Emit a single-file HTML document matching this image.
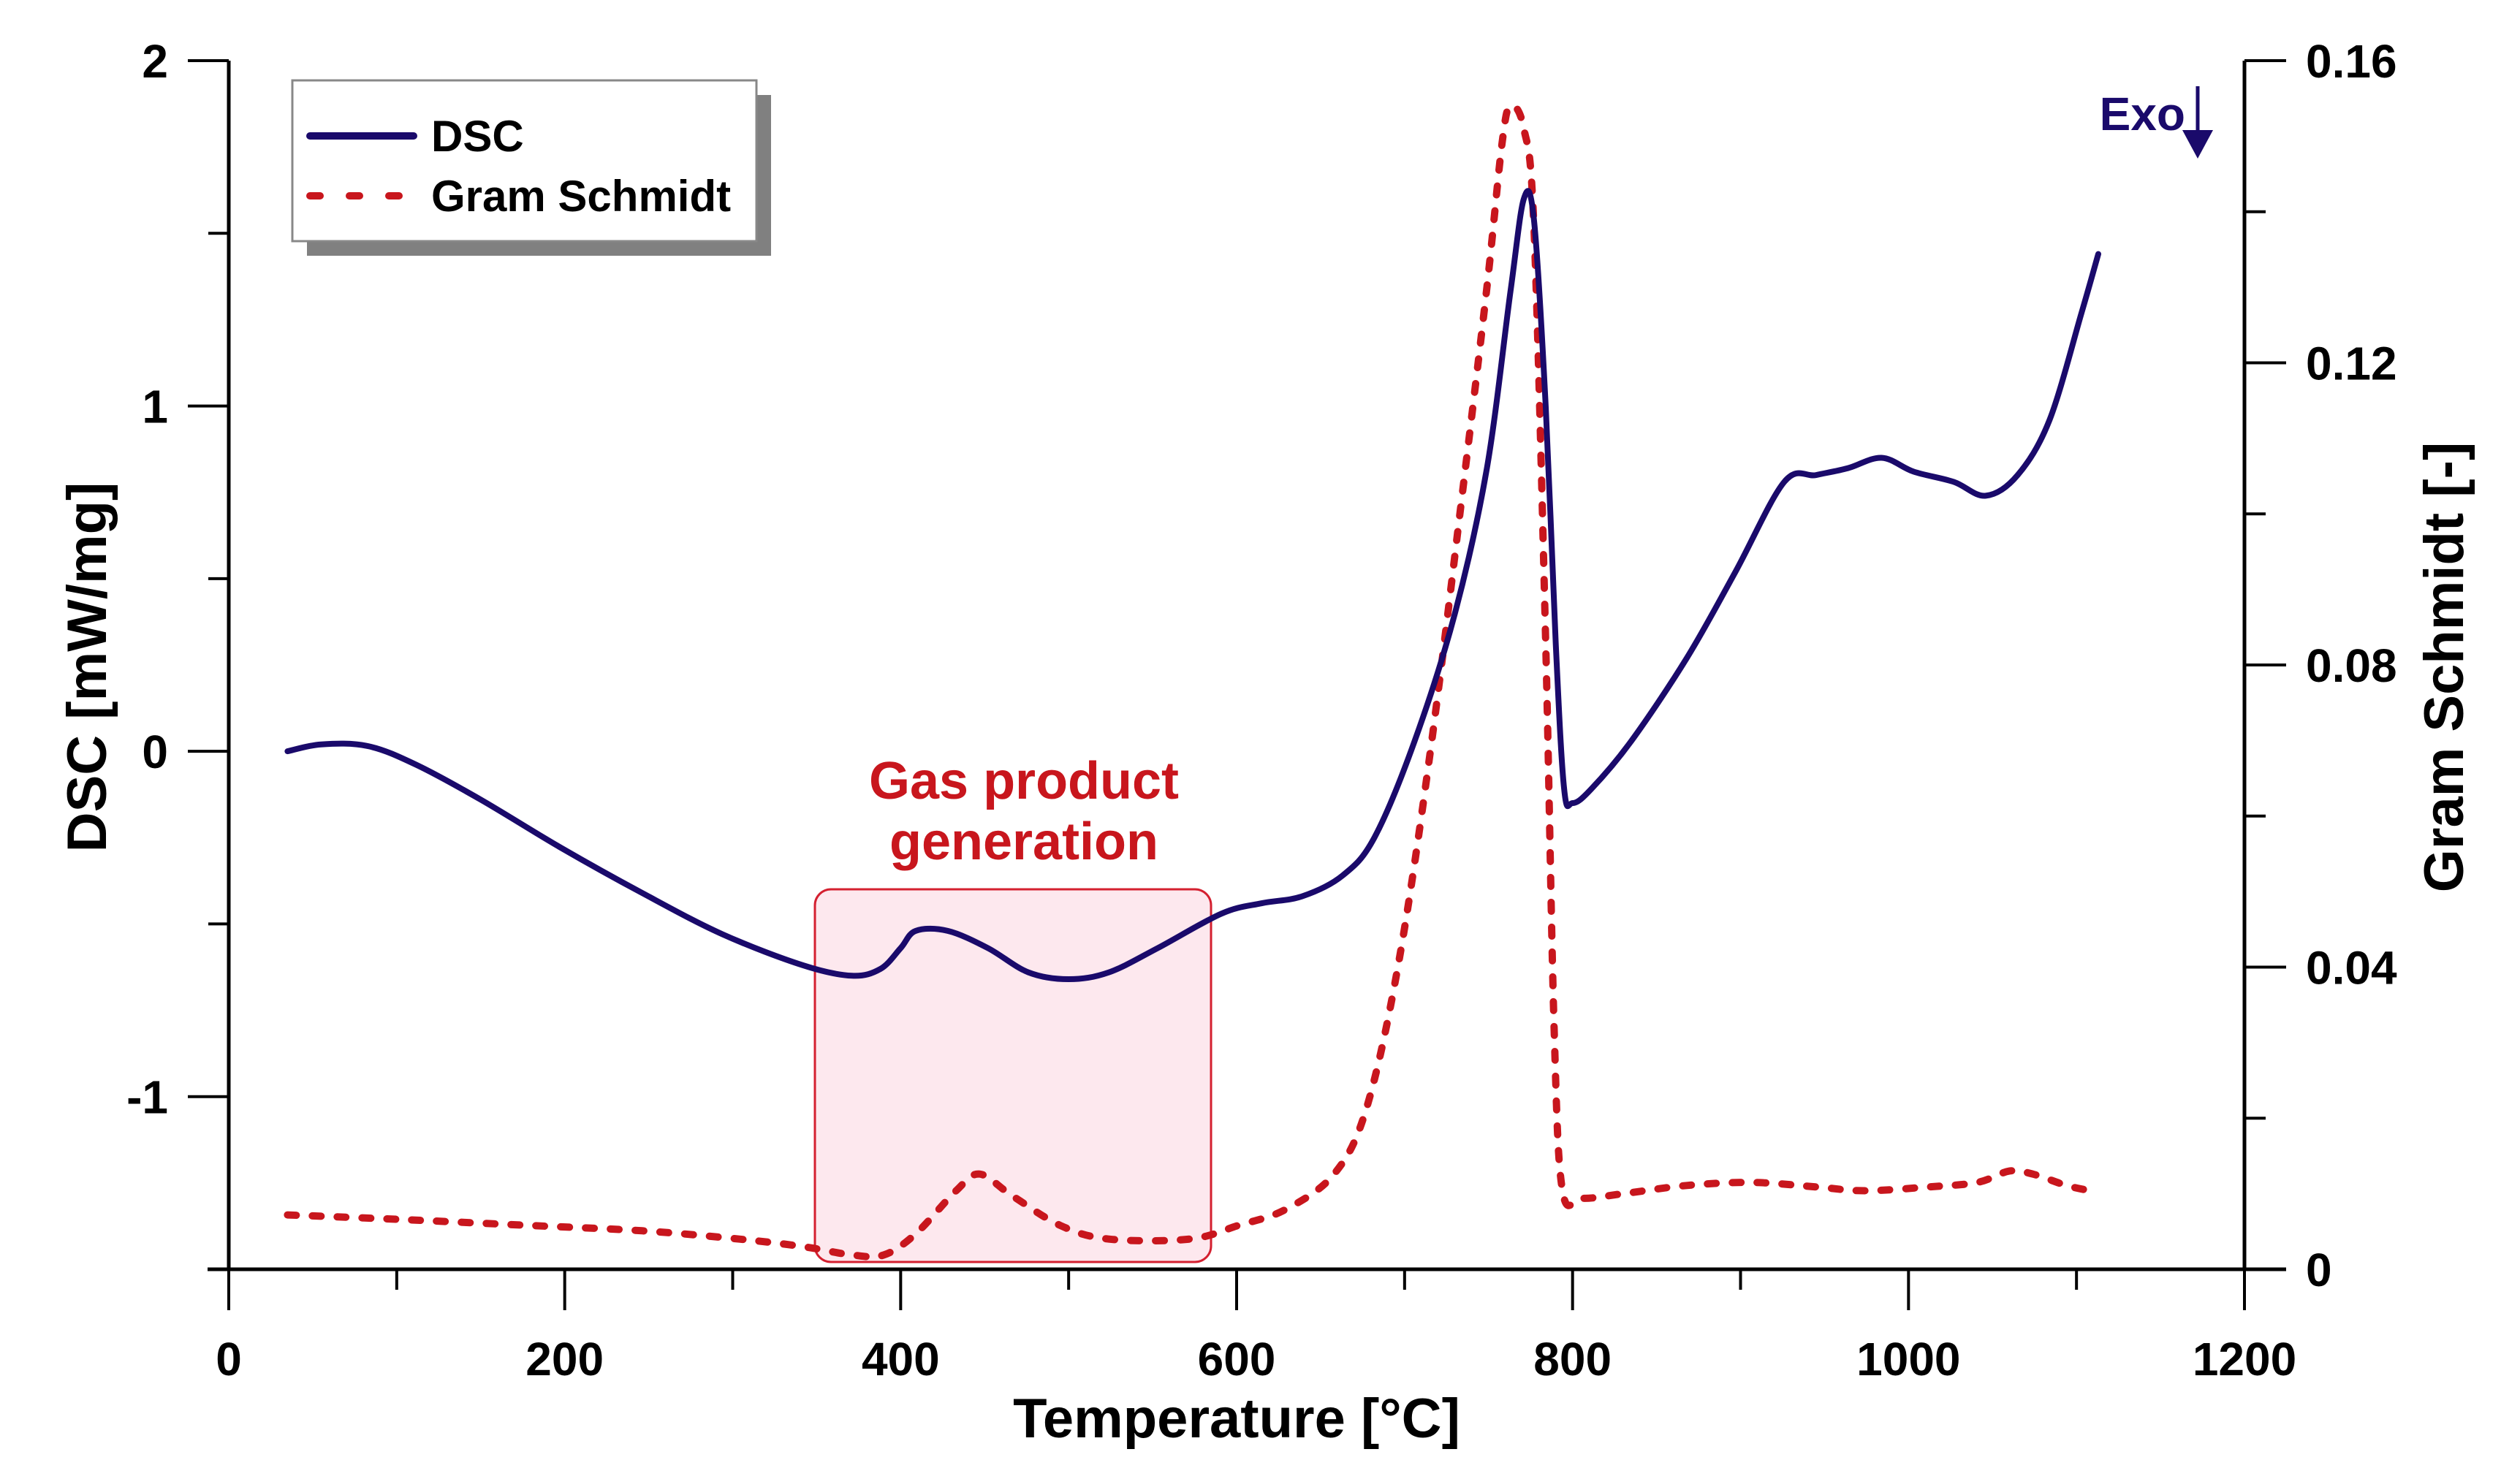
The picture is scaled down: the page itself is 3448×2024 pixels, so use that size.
<!DOCTYPE html>
<html><head><meta charset="utf-8"><style>
html,body{margin:0;padding:0;background:#fff;}
svg{display:block;font-family:"Liberation Sans",Arial,sans-serif;font-weight:bold;}
</style></head><body>
<svg id="chart" width="3448" height="2024" viewBox="0 0 3448 2024" xmlns="http://www.w3.org/2000/svg">
<rect width="3448" height="2024" fill="#fff"/>
<g id="highlight">
  <rect x="1115" y="1217" width="542" height="510" rx="22" ry="22" fill="#fde8ee" stroke="#d42030" stroke-width="3"/>
</g>
<text x="1401" y="1093" font-size="72" fill="#c8161d" text-anchor="middle">Gas product</text>
<text x="1401" y="1176" font-size="72" fill="#c8161d" text-anchor="middle">generation</text>
<g id="axes"></g>
<g id="series"></g>
<g>
  <rect x="420" y="130" width="635" height="220" fill="#808080"/>
  <rect x="400" y="110" width="635" height="220" fill="#fff" stroke="#888" stroke-width="3"/>
  <line x1="424" y1="186" x2="566" y2="186" stroke="#1a0a6b" stroke-width="10" stroke-linecap="round"/>
  <text x="590" y="207" font-size="60" fill="#000">DSC</text>
  <line x1="424" y1="268" x2="566" y2="268" stroke="#c8161d" stroke-width="10" stroke-linecap="round" stroke-dasharray="14 40"/>
  <text x="590" y="289" font-size="60" fill="#000">Gram Schmidt</text>
</g>
<g>
  <text x="2990" y="178" font-size="64" fill="#1a0a6b" text-anchor="end">Exo</text>
  <line x1="3007" y1="118" x2="3007" y2="190" stroke="#1a0a6b" stroke-width="5"/>
  <polygon points="2986,178 3028,178 3007,217" fill="#1a0a6b"/>
</g>
<text x="1692" y="1967" font-size="76" text-anchor="middle" fill="#000">Temperature [°C]</text>
<text transform="translate(145,913) rotate(-90)" font-size="76" text-anchor="middle" fill="#000">DSC [mW/mg]</text>
<text transform="translate(3370,913) rotate(-90)" font-size="76" text-anchor="middle" fill="#000">Gram Schmidt [-]</text>
</svg>
<script>
const dscT = [35,55,83,112,150,198,246,294,342,371,388,400,409,428,452,476,500,524,553,591,615,639,663,682,706,730,749,763,771,777,784,790,795,800,811,835,868,897,926,945,964,984,1003,1027,1046,1065,1084,1103,1113];
const dscV = [0,0.02,0.015,-0.04,-0.14,-0.28,-0.41,-0.53,-0.62,-0.65,-0.63,-0.57,-0.52,-0.52,-0.57,-0.64,-0.66,-0.64,-0.57,-0.47,-0.44,-0.42,-0.36,-0.25,0.03,0.40,0.82,1.33,1.60,1.54,1.0,0.31,-0.11,-0.15,-0.11,0.03,0.27,0.52,0.78,0.80,0.82,0.85,0.81,0.78,0.74,0.80,0.96,1.27,1.44];
const gsT = [35,102,179,246,304,342,371,390,409,433,447,466,495,524,572,601,629,658,677,696,715,734,749,758,763,771,777,784,789,794,806,830,868,907,945,974,1012,1041,1060,1074,1094,1108];
const gsV = [0.0072,0.0066,0.0058,0.0051,0.0040,0.0030,0.0019,0.0019,0.0047,0.0104,0.0126,0.0098,0.0058,0.0040,0.0040,0.0058,0.0079,0.0126,0.0211,0.040,0.068,0.102,0.130,0.149,0.154,0.151,0.138,0.083,0.032,0.0104,0.0094,0.0100,0.0111,0.0115,0.0109,0.0104,0.0109,0.0115,0.0130,0.0126,0.0111,0.0104];
const xTickLabels = ["0","200","400","600","800","1000","1200"];
const yLeftTickLabels = ["2","1","0","-1"];
const yRightTickLabels = ["0.16","0.12","0.08","0.04","0"];

const X0=313, X1=3071, YT=83, YB=1737;
const xS = t => X0 + (t/1200)*(X1-X0);
const yL = v => YT + (2-v)/3.5*(YB-YT);
const yR = v => YB - (v/0.16)*(YB-YT);
const NS="http://www.w3.org/2000/svg";
function mk(tag, attrs, parent){const e=document.createElementNS(NS,tag);for(const k in attrs)e.setAttribute(k,attrs[k]);parent.appendChild(e);return e;}
const ax=document.getElementById('axes');
const sr=document.getElementById('series');
let l;
l=mk('line',{x1:X0,y1:YT,x2:X0,y2:YB,stroke:'#000','stroke-width':5},ax);


l=mk('line',{x1:X1,y1:YT,x2:X1,y2:YB,stroke:'#000','stroke-width':5},ax);


l=mk('line',{x1:284,y1:YB,x2:3128,y2:YB,stroke:'#000','stroke-width':5},ax);


for(let t=0;t<=1200;t+=100){
  const major=t%200===0;
  l=mk('line',{x1:xS(t),y1:YB,x2:xS(t),y2:YB+(major?56:28),stroke:'#000','stroke-width':4},ax);
  
  
}
xTickLabels.forEach(s=>{
  const e=mk('text',{x:xS(parseFloat(s)),y:1882,'font-size':64,'text-anchor':'middle'},ax);
  e.textContent=s;
  
  
});
for(let v=2;v>=-1.5;v-=0.5){
  const major=Math.abs(v-Math.round(v))<1e-9;
  l=mk('line',{x1:X0-(major?56:28),y1:yL(v),x2:X0,y2:yL(v),stroke:'#000','stroke-width':4},ax);
  
  
}
yLeftTickLabels.forEach(s=>{
  const e=mk('text',{x:230,y:yL(parseFloat(s))+23,'font-size':64,'text-anchor':'end'},ax);
  e.textContent=s;
  
  
});
for(let i=0;i<=8;i++){
  const v=i*0.02; const major=i%2===0;
  l=mk('line',{x1:X1,y1:yR(v),x2:X1+(major?57:29),y2:yR(v),stroke:'#000','stroke-width':4},ax);
  
  
}
yRightTickLabels.forEach(s=>{
  const e=mk('text',{x:3155,y:yR(parseFloat(s))+23,'font-size':64,'text-anchor':'start'},ax);
  e.textContent=s;
  
  
});
function smoothPath(pts){
  let d='M'+pts[0][0].toFixed(1)+','+pts[0][1].toFixed(1);
  for(let i=0;i<pts.length-1;i++){
    const p0=pts[i-1]||pts[i],p1=pts[i],p2=pts[i+1],p3=pts[i+2]||p2;
    const c1=[p1[0]+(p2[0]-p0[0])/6,p1[1]+(p2[1]-p0[1])/6];
    const c2=[p2[0]-(p3[0]-p1[0])/6,p2[1]-(p3[1]-p1[1])/6];
    d+=' C'+c1[0].toFixed(1)+','+c1[1].toFixed(1)+' '+c2[0].toFixed(1)+','+c2[1].toFixed(1)+' '+p2[0].toFixed(1)+','+p2[1].toFixed(1);
  }
  return d;
}
const gsPts=gsT.map((t,i)=>[xS(t),yR(gsV[i])]);
const p2=mk('path',{d:smoothPath(gsPts),fill:'none',stroke:'#c8161d','stroke-width':10,'stroke-dasharray':'12 22','stroke-linecap':'round'},sr);


const dscPts=dscT.map((t,i)=>[xS(t),yL(dscV[i])]);
const p1=mk('path',{d:smoothPath(dscPts),fill:'none',stroke:'#1a0a6b','stroke-width':8,'stroke-linejoin':'round','stroke-linecap':'round'},sr);


</script>
</body></html>
